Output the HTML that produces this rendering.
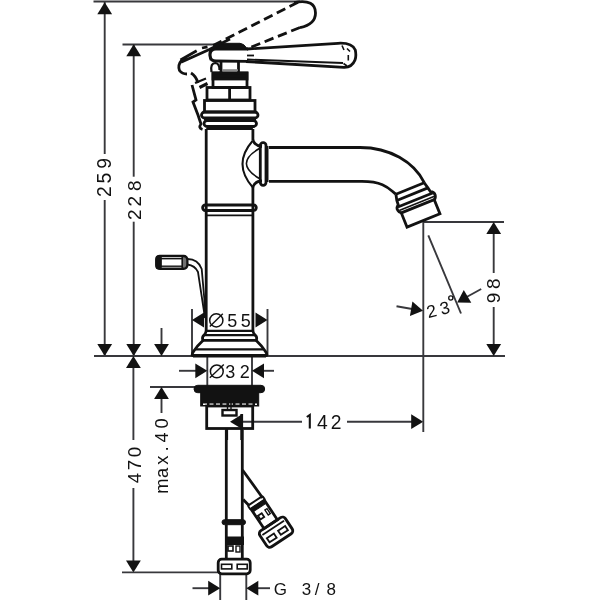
<!DOCTYPE html>
<html><head><meta charset="utf-8"><style>
html,body{margin:0;padding:0;background:#fff;}
svg{display:block;will-change:transform;}
text{font-family:"Liberation Sans",sans-serif;fill:#121212;stroke:none;}
</style></head><body>
<svg width="600" height="600" viewBox="0 0 600 600" stroke="#121212" fill="#121212" stroke-linecap="butt">
<line x1="93.5" y1="1.5" x2="300" y2="1.5" stroke-width="1.9" stroke="#38383c"/>
<line x1="104.7" y1="2" x2="104.7" y2="154" stroke-width="1.9" stroke="#38383c"/>
<line x1="104.7" y1="200" x2="104.7" y2="356" stroke-width="1.9" stroke="#38383c"/>
<polygon stroke="none" points="104.70,2.20 112.10,14.20 97.30,14.20"/>
<polygon stroke="none" points="104.70,356.00 97.30,344.00 112.10,344.00"/>
<line x1="122.5" y1="44.5" x2="215" y2="44.5" stroke-width="1.9" stroke="#38383c"/>
<line x1="133.7" y1="44.5" x2="133.7" y2="176.7" stroke-width="1.9" stroke="#38383c"/>
<line x1="133.7" y1="221.7" x2="133.7" y2="356" stroke-width="1.9" stroke="#38383c"/>
<polygon stroke="none" points="133.70,44.30 141.10,56.30 126.30,56.30"/>
<polygon stroke="none" points="133.70,356.00 126.30,344.00 141.10,344.00"/>
<line x1="94" y1="356" x2="505" y2="356" stroke-width="1.9" stroke="#38383c"/>
<line x1="161.5" y1="328" x2="161.5" y2="350" stroke-width="1.9" stroke="#38383c"/>
<polygon stroke="none" points="161.50,356.00 154.10,344.00 168.90,344.00"/>
<line x1="133.4" y1="360" x2="133.4" y2="440" stroke-width="1.9" stroke="#38383c"/>
<line x1="133.4" y1="488" x2="133.4" y2="566" stroke-width="1.9" stroke="#38383c"/>
<polygon stroke="none" points="133.40,356.00 140.80,368.00 126.00,368.00"/>
<polygon stroke="none" points="133.40,572.40 126.00,560.40 140.80,560.40"/>
<line x1="122" y1="572.4" x2="219" y2="572.4" stroke-width="1.9" stroke="#38383c"/>
<line x1="150" y1="387" x2="195" y2="387" stroke-width="1.9" stroke="#38383c"/>
<line x1="161.5" y1="392" x2="161.5" y2="413" stroke-width="1.9" stroke="#38383c"/>
<polygon stroke="none" points="161.50,387.00 168.90,399.00 154.10,399.00"/>
<line x1="192" y1="309" x2="192" y2="356" stroke-width="1.9" stroke="#38383c"/>
<line x1="267.5" y1="309" x2="267.5" y2="356" stroke-width="1.9" stroke="#38383c"/>
<polygon stroke="none" points="192.00,320.00 204.00,312.60 204.00,327.40"/>
<polygon stroke="none" points="267.50,320.00 255.50,327.40 255.50,312.60"/>
<line x1="207.3" y1="357" x2="207.3" y2="386" stroke-width="1.9" stroke="#38383c"/>
<line x1="252" y1="357" x2="252" y2="386" stroke-width="1.9" stroke="#38383c"/>
<line x1="179" y1="370.8" x2="200" y2="370.8" stroke-width="1.9" stroke="#38383c"/>
<polygon stroke="none" points="207.30,370.80 195.30,378.20 195.30,363.40"/>
<line x1="258" y1="370.8" x2="274" y2="370.8" stroke-width="1.9" stroke="#38383c"/>
<polygon stroke="none" points="252.00,370.80 264.00,363.40 264.00,378.20"/>
<line x1="236" y1="421.7" x2="302" y2="421.7" stroke-width="1.9" stroke="#38383c"/>
<line x1="347" y1="421.7" x2="418" y2="421.7" stroke-width="1.9" stroke="#38383c"/>
<polygon stroke="none" points="230.00,421.70 242.00,414.30 242.00,429.10"/>
<polygon stroke="none" points="423.20,421.70 411.20,429.10 411.20,414.30"/>
<line x1="423.3" y1="222" x2="423.3" y2="432" stroke-width="1.9" stroke="#38383c"/>
<line x1="423" y1="222" x2="504" y2="222" stroke-width="1.9" stroke="#38383c"/>
<line x1="493.7" y1="228" x2="493.7" y2="273" stroke-width="1.9" stroke="#38383c"/>
<line x1="493.7" y1="307" x2="493.7" y2="350" stroke-width="1.9" stroke="#38383c"/>
<polygon stroke="none" points="493.70,222.00 501.10,234.00 486.30,234.00"/>
<polygon stroke="none" points="493.70,356.00 486.30,344.00 501.10,344.00"/>
<line x1="428.3" y1="235.3" x2="461" y2="313.5" stroke-width="1.9" stroke="#38383c"/>
<line x1="396.5" y1="306.2" x2="415" y2="309.5" stroke-width="1.9" stroke="#38383c"/>
<polygon stroke="none" points="423.00,310.70 409.93,315.98 412.41,301.39"/>
<line x1="481.2" y1="289" x2="463" y2="299" stroke-width="1.9" stroke="#38383c"/>
<polygon stroke="none" points="457.20,302.50 463.79,290.04 471.30,302.79"/>
<line x1="220.2" y1="573" x2="220.2" y2="600" stroke-width="1.9" stroke="#38383c"/>
<line x1="246.3" y1="573" x2="246.3" y2="600" stroke-width="1.9" stroke="#38383c"/>
<line x1="192.5" y1="588.2" x2="212" y2="588.2" stroke-width="1.9" stroke="#38383c"/>
<polygon stroke="none" points="220.20,588.20 208.20,595.60 208.20,580.80"/>
<line x1="253" y1="588.2" x2="270" y2="588.2" stroke-width="1.9" stroke="#38383c"/>
<polygon stroke="none" points="246.30,588.20 258.30,580.80 258.30,595.60"/>
<circle cx="216.3" cy="320.4" r="6.6" fill="none" stroke-width="1.5"/>
<line x1="209.8" y1="326.6" x2="222.8" y2="313.8" stroke-width="1.4"/>
<circle cx="216.8" cy="371.4" r="6.4" fill="none" stroke-width="1.5"/>
<line x1="209.8" y1="377.8" x2="223.8" y2="364.6" stroke-width="1.4"/>
<path d="M306.8,417 L309.8,415 L309.8,428.4" fill="none" stroke-width="2.1"/>
<circle cx="450.8" cy="298" r="2.1" fill="none" stroke-width="1.3"/>
<line x1="206.2" y1="129" x2="206.2" y2="331" stroke-width="2.8"/>
<line x1="252.9" y1="129" x2="252.9" y2="140" stroke-width="2.8"/>
<line x1="252.9" y1="187" x2="252.9" y2="331" stroke-width="2.8"/>
<rect x="202.6" y="205" width="53.7" height="5.5" rx="2.75" stroke-width="2.8" fill="none"/>
<line x1="206.2" y1="215.4" x2="252.9" y2="215.4" stroke-width="1.8"/>
<rect x="204" y="120.5" width="52.5" height="6" rx="3" stroke-width="2.8" fill="none"/>
<line x1="206.2" y1="129" x2="252.9" y2="129" stroke-width="1.8"/>
<line x1="204" y1="119" x2="256" y2="119" stroke-width="1.8"/>
<rect x="201.5" y="112" width="56.5" height="6" rx="3" stroke-width="2.8" fill="none"/>
<rect x="204.5" y="100.5" width="50.5" height="11.5" rx="0" stroke-width="2.8" fill="none"/>
<rect x="207" y="87.5" width="43" height="12.5" rx="0" stroke-width="2.8" fill="none"/>
<line x1="229.6" y1="87.5" x2="229.6" y2="100" stroke-width="2.8"/>
<rect x="213" y="73" width="34" height="14.5" rx="0" stroke-width="2.8" fill="none"/>
<rect x="213" y="73" width="34" height="6" rx="0" stroke-width="2.8" fill="#121212"/>
<line x1="221" y1="61" x2="221" y2="73" stroke-width="2.8"/>
<line x1="238.5" y1="61" x2="238.5" y2="73" stroke-width="2.8"/>
<line x1="222" y1="70.2" x2="238" y2="70.2" stroke-width="2" stroke="#888"/>
<path d="M216,49 L248,49 M248,61.3 L216,61 Q210,61 210,55 Q210,49 216,49" stroke-width="2.8" fill="none" />
<path d="M213.5,49 Q216,44 221,43.3 L240,43.3 Q244,43.5 247,48.5 Z" stroke-width="1" fill="#121212" />
<path d="M247,49 L338,43.3 Q352,42.5 355.3,50 Q356.5,56 355,60 Q352,67.5 344,67.3 L246,61.5" stroke-width="2.8" fill="none" />
<path d="M247,59.5 L343,63" stroke-width="1.8" fill="none" />
<path d="M342,45.5 L344,50 M347,48.5 L350,51.5 M348.3,55 L348.3,60.5 M343.5,63.5 L347,66" stroke-width="1.6" fill="none" />
<line x1="247" y1="55.5" x2="254" y2="55.5" stroke-width="1.8"/>
<path d="M298,2.2 L212,46 M300,27.5 L249,48" stroke-width="2.8" stroke-dasharray="9.5,4.8" fill="none"/>
<path d="M294,2.5 C309,-0.5 315.5,4 315.5,13 C315.5,21 310,25.5 300,27.7" stroke-width="2.8" fill="none" />
<path d="M180.5,60 L196.7,50.8 M202,48 L207.5,46.8 M181,62.3 L209.3,49.5 L230,39" stroke-width="2.8" fill="none" />
<path d="M181.5,60.5 Q177.5,65 179.5,70.5 Q182,74 187,74" stroke-width="2.8" fill="none" />
<path d="M191,73 Q196,76 198,83" stroke-width="2.8" fill="none" />
<path d="M195,83 L206,78.5" stroke-width="2" fill="none" />
<path d="M199.5,87.5 L207.5,83.5" stroke-width="3.2" fill="none" />
<path d="M192,85 L196,100 L193,102 L198,115 L201,124 Q198,128 202.5,129.5" stroke-width="2.8" fill="none" />
<path d="M211.5,72 Q210,63 215.5,63 Q219.5,63.5 219.5,70" stroke-width="2.2" fill="none" />
<path d="M210.5,50 Q209,55 211,60" stroke-width="2.6" fill="none" />
<path d="M269,147.5 L360,147.5 C389.7,147.5 414,161.9 424.4,182.8" stroke-width="2.8" fill="none" />
<path d="M269,181.3 L362,181.4 C384.8,181.4 389.3,189.3 395.9,194.2" stroke-width="2.8" fill="none" />
<rect x="260.3" y="142.7" width="5.7" height="42.6" rx="2.8" stroke-width="2.8" fill="none"/>
<line x1="267.5" y1="146" x2="267.5" y2="182" stroke-width="2"/>
<path d="M252.9,140 Q255,146 262,146.5 M252.9,187 Q255,181 262,181" stroke-width="2.8" fill="none" />
<path d="M252.5,141 Q232.5,164 252.5,187" stroke-width="2" fill="none" />
<path d="M260.3,148 Q232.5,163.5 260.3,179" stroke-width="1.6" fill="none" />
<g transform="translate(423.25 220.5) rotate(-22)">
<rect x="-17.5" y="-15.3" width="35.5" height="15.3" rx="0" stroke-width="2.8" fill="none"/>
<line x1="-15.5" y1="-34.6" x2="15" y2="-34.6" stroke-width="2.8"/>
<line x1="-17" y1="-28.5" x2="16.5" y2="-28.5" stroke-width="2.8"/>
<line x1="-18.5" y1="-22" x2="19" y2="-22" stroke-width="2.8"/>
<line x1="-18.5" y1="-18.3" x2="19.5" y2="-18.3" stroke-width="1.6"/>
<path d="M-15.5,-34.6 L-17,-28.5 L-17.3,-24 Q-20.5,-22 -19.8,-19 Q-19.5,-16.5 -17.5,-15.3" stroke-width="2.8" fill="none" />
<path d="M15,-34.6 L16.5,-28.5 L17.5,-24 Q21,-22.5 20.6,-19 Q20,-16 18,-15.3" stroke-width="2.8" fill="none" />
</g>
<line x1="206.2" y1="330.8" x2="252.9" y2="330.8" stroke-width="2.2"/>
<path d="M206.2,331 Q205.5,334.5 203.2,336 Q201.8,338.5 203.2,340.3 L256,340.3 Q257.4,338.5 256,336 Q253.6,334.5 252.9,331" stroke-width="2.8" fill="none" />
<line x1="204" y1="335.2" x2="255" y2="335.2" stroke-width="2.2"/>
<path d="M203.2,340.3 Q197,346 193.5,351.5 Q191.5,354.5 192.5,355.5 L266.5,355.5 Q267.5,354.5 265.5,351.5 Q262,346 256,340.3" stroke-width="2.8" fill="none" />
<line x1="196" y1="349.3" x2="263" y2="349.3" stroke-width="2.2"/>
<line x1="193" y1="356.3" x2="266" y2="356.3" stroke-width="2.4"/>
<rect x="156.3" y="256" width="31" height="12.8" rx="3.5" stroke-width="2.4" fill="none"/>
<rect x="156.3" y="256" width="4.8" height="12.8" rx="2" stroke-width="1.5" fill="#121212"/>
<line x1="182.5" y1="256.5" x2="182.5" y2="268.3" stroke-width="2.2"/>
<line x1="185" y1="257" x2="185" y2="267.5" stroke-width="1.2"/>
<line x1="161" y1="258.7" x2="182" y2="258.7" stroke-width="1.4"/>
<line x1="161" y1="266.2" x2="182" y2="266.2" stroke-width="1.4"/>
<path d="M187.5,259 Q198,259 201.7,269 L206,318 M187.5,264.5 Q195,265.5 198,272 L205,318" stroke-width="1.8" fill="none" />
<rect x="194" y="385.3" width="70.7" height="7.4" rx="3.7" stroke-width="1" fill="#121212"/>
<rect x="200.7" y="392" width="58" height="14" rx="0" stroke-width="1" fill="#121212"/>
<line x1="203" y1="404.2" x2="257" y2="404.2" stroke="#fff" stroke-width="1.5" stroke-dasharray="4,2.5"/>
<rect x="206.7" y="406" width="46" height="22.5" rx="0" stroke-width="2.8" fill="none"/>
<line x1="227.5" y1="403" x2="227.5" y2="410" stroke-width="1.4"/>
<line x1="231" y1="403" x2="231" y2="410" stroke-width="1.4"/>
<rect x="222.5" y="410" width="14" height="5.5" rx="0" stroke-width="2.4" fill="none"/>
<line x1="224" y1="412.7" x2="235" y2="412.7" stroke="#fff" stroke-width="1.2" stroke-dasharray="2.5,1.5"/>
<line x1="226.7" y1="428" x2="226.7" y2="440" stroke-width="2.8"/>
<line x1="241.7" y1="414" x2="241.7" y2="440" stroke-width="2.8"/>
<line x1="226.3" y1="430" x2="226.3" y2="520" stroke-width="2.8"/>
<line x1="242.3" y1="430" x2="242.3" y2="520" stroke-width="2.8"/>
<rect x="222" y="519.7" width="23.5" height="5" rx="2.5" stroke-width="1" fill="#121212"/>
<line x1="226.3" y1="524.6" x2="226.3" y2="560" stroke-width="2.8"/>
<line x1="242.3" y1="524.6" x2="242.3" y2="560" stroke-width="2.8"/>
<rect x="226" y="537" width="17.5" height="7.5" rx="0" stroke-width="1" fill="#121212"/>
<rect x="228" y="546" width="5" height="5" rx="0" stroke-width="1.6" fill="none"/>
<rect x="236" y="546" width="4" height="6" rx="0" stroke-width="1.4" fill="none"/>
<rect x="218.2" y="559.2" width="32" height="14.6" rx="3.5" stroke-width="2.8" fill="none"/>
<rect x="221.5" y="564.3" width="10.3" height="4.6" rx="0" stroke-width="1.6" fill="none"/>
<rect x="237.2" y="564.3" width="10" height="4.6" rx="0" stroke-width="1.6" fill="none"/>
<path d="M242.5,470 L262.7,498 M243.2,499.5 L249,505.5" stroke-width="2.8" fill="none" />
<g transform="translate(276.25 532.5) rotate(-33.6)">
<rect x="-15.3" y="-10" width="30.6" height="19.3" rx="3.5" stroke-width="2.8" fill="none"/>
<line x1="-13" y1="-5.5" x2="13" y2="-5.5" stroke-width="1.8"/>
<rect x="-11" y="-0.5" width="8.5" height="5" rx="0" stroke-width="1.8" fill="none"/>
<rect x="2.5" y="-0.5" width="8.5" height="5" rx="0" stroke-width="1.8" fill="none"/>
<rect x="-8" y="-33.5" width="16" height="23.5" rx="0" stroke-width="2.8" fill="none"/>
<rect x="-8" y="-33.5" width="16" height="3.5" rx="0" stroke-width="1" fill="#121212"/>
<rect x="-6" y="-24" width="4.5" height="4.5" rx="0" stroke-width="1.8" fill="none"/>
<rect x="3" y="-25" width="2.5" height="6" rx="0" stroke-width="1.4" fill="none"/>
<rect x="-8.8" y="-38" width="17.6" height="4.5" rx="1.5" stroke-width="2" fill="none"/>
</g>
<text x="111.3" y="163.3" font-size="19.3" text-anchor="middle" transform="rotate(-90 111.3 163.3)">9</text>
<text x="111.3" y="178" font-size="19.3" text-anchor="middle" transform="rotate(-90 111.3 178)">5</text>
<text x="111.3" y="191.55" font-size="19.3" text-anchor="middle" transform="rotate(-90 111.3 191.55)">2</text>
<text x="140.9" y="185.75" font-size="19" text-anchor="middle" transform="rotate(-90 140.9 185.75)">8</text>
<text x="140.9" y="201.25" font-size="19" text-anchor="middle" transform="rotate(-90 140.9 201.25)">2</text>
<text x="140.9" y="214.75" font-size="19" text-anchor="middle" transform="rotate(-90 140.9 214.75)">2</text>
<text x="140.6" y="452" font-size="18.7" text-anchor="middle" transform="rotate(-90 140.6 452)">0</text>
<text x="140.6" y="465" font-size="18.7" text-anchor="middle" transform="rotate(-90 140.6 465)">7</text>
<text x="140.6" y="478" font-size="18.7" text-anchor="middle" transform="rotate(-90 140.6 478)">4</text>
<text x="500.4" y="297.9" font-size="19" text-anchor="middle" transform="rotate(-90 500.4 297.9)">9</text>
<text x="500.4" y="283.75" font-size="19" text-anchor="middle" transform="rotate(-90 500.4 283.75)">8</text>
<text x="168.3" y="423.5" font-size="18.3" text-anchor="middle" transform="rotate(-90 168.3 423.5)">0</text>
<text x="168.3" y="437.5" font-size="18.3" text-anchor="middle" transform="rotate(-90 168.3 437.5)">4</text>
<text x="168.3" y="449" font-size="18.3" text-anchor="middle" transform="rotate(-90 168.3 449)">.</text>
<text x="168.3" y="460.25" font-size="18.3" text-anchor="middle" transform="rotate(-90 168.3 460.25)">x</text>
<text x="168.3" y="473" font-size="18.3" text-anchor="middle" transform="rotate(-90 168.3 473)">a</text>
<text x="168.3" y="486.1" font-size="18.3" text-anchor="middle" transform="rotate(-90 168.3 486.1)">m</text>
<text x="232.25" y="327" font-size="18" text-anchor="middle">5</text>
<text x="245.75" y="327" font-size="18" text-anchor="middle">5</text>
<text x="230.25" y="377.6" font-size="18" text-anchor="middle">3</text>
<text x="244.75" y="377.6" font-size="18" text-anchor="middle">2</text>
<text x="322.25" y="428.5" font-size="19.3" text-anchor="middle">4</text>
<text x="336" y="428.5" font-size="19.3" text-anchor="middle">2</text>
<text x="280.25" y="594.5" font-size="17" text-anchor="middle">G</text>
<text x="306.5" y="594.5" font-size="17" text-anchor="middle">3</text>
<text x="317" y="594.5" font-size="17" text-anchor="middle">/</text>
<text x="331.25" y="594.5" font-size="17" text-anchor="middle">8</text>
<text x="0" y="0" font-size="17.5" letter-spacing="4" text-anchor="start" transform="translate(428.2 318.2) rotate(-14)">23</text>
</svg>
</body></html>
